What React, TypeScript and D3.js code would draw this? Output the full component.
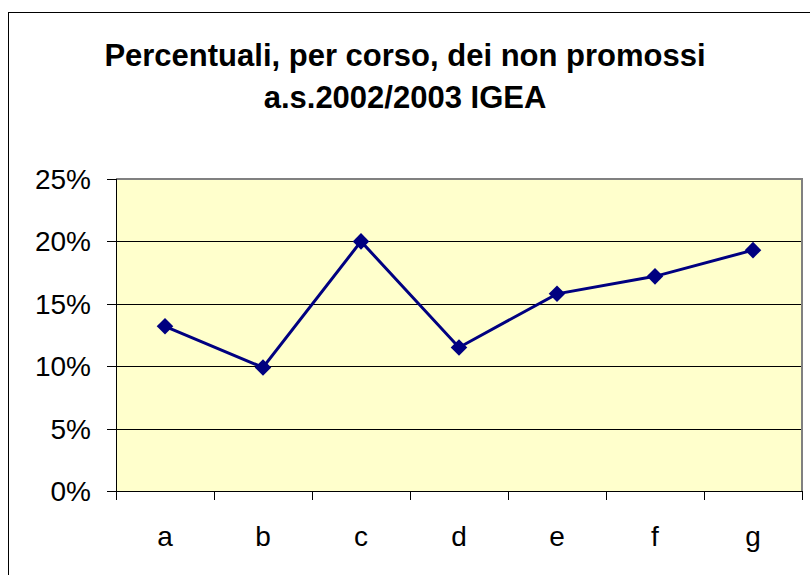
import React from "react";
import * as d3 from "d3";

const categories = ["a", "b", "c", "d", "e", "f", "g"];
const values = [0.132, 0.099, 0.2, 0.115, 0.158, 0.172, 0.193];
const yTicks = [0, 0.05, 0.1, 0.15, 0.2, 0.25];
const titleLines = ["Percentuali, per corso, dei non promossi", "a.s.2002/2003 IGEA"];

const W = 810;
const H = 575;
const plot = { left: 116, right: 802, top: 179, bottom: 491 };

export default function App() {
  const x = d3.scaleBand().domain(categories).range([plot.left, plot.right]).padding(0);
  const y = d3.scaleLinear().domain([0, 0.25]).range([plot.bottom, plot.top]);
  const fmt = d3.format(".0%");
  const cx = (c: string) => (x(c) as number) + x.bandwidth() / 2;
  const line = d3
    .line<number>()
    .x((_, i) => cx(categories[i]))
    .y((v) => y(v));
  const diamond = d3.symbol().type(d3.symbolDiamond2).size(175)();
  const font = "Arial, 'Liberation Sans', sans-serif";
  const xTickPos = [...categories.map((c) => x(c) as number), plot.right];

  return (
    <div style={{ position: "absolute", left: 0, top: 0, width: W, height: H, background: "#fff" }}>
      <svg width={W} height={H} style={{ display: "block" }}>
        <rect x={0} y={0} width={W} height={H} fill="#fff" />
        <rect x={8.5} y={12.5} width={900} height={700} fill="none" stroke="#000" strokeWidth={1} />
        {titleLines.map((t, i) => (
          <text
            key={i}
            x={405}
            y={66 + i * 42}
            textAnchor="middle"
            fontFamily={font}
            fontWeight="bold"
            fontSize={31}
            fill="#000"
          >
            {t}
          </text>
        ))}
        <rect
          x={plot.left}
          y={plot.top}
          width={plot.right - plot.left}
          height={plot.bottom - plot.top}
          fill="#FFFFCC"
        />
        {yTicks.slice(1, -1).map((t) => (
          <line key={t} x1={plot.left} x2={plot.right} y1={Math.round(y(t)) + 0.5} y2={Math.round(y(t)) + 0.5} stroke="#000" strokeWidth={1} />
        ))}
        <path
          d={`M${plot.left},${plot.top} H${plot.right} V${plot.bottom}`}
          fill="none"
          stroke="#808080"
          strokeWidth={2}
        />
        <line x1={plot.left + 0.5} x2={plot.left + 0.5} y1={plot.top} y2={plot.bottom} stroke="#000" />
        <line x1={plot.left} x2={plot.right} y1={plot.bottom + 0.5} y2={plot.bottom + 0.5} stroke="#000" />
        {yTicks.map((t) => (
          <g key={t}>
            <line x1={107} x2={plot.left} y1={Math.round(y(t)) + 0.5} y2={Math.round(y(t)) + 0.5} stroke="#000" />
            <text x={91} y={y(t) + 10} textAnchor="end" fontFamily={font} fontSize={28} fill="#000">
              {fmt(t)}
            </text>
          </g>
        ))}
        {xTickPos.map((p, i) => (
          <line key={i} x1={Math.round(p) + 0.5} x2={Math.round(p) + 0.5} y1={plot.bottom} y2={plot.bottom + 9} stroke="#000" />
        ))}
        {categories.map((c) => (
          <text key={c} x={cx(c)} y={546} textAnchor="middle" fontFamily={font} fontSize={28} fill="#000">
            {c}
          </text>
        ))}
        <path d={line(values) || ""} fill="none" stroke="#000080" strokeWidth={3} />
        {values.map((v, i) => (
          <path key={i} d={diamond || ""} transform={`translate(${cx(categories[i])},${y(v)})`} fill="#000080" />
        ))}
      </svg>
    </div>
  );
}
